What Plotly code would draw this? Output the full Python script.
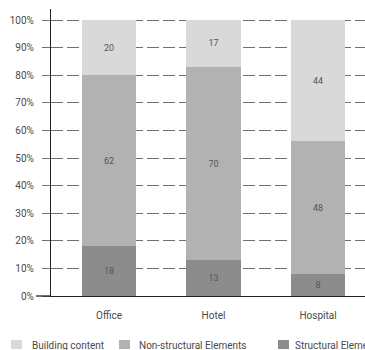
import plotly.graph_objects as go

categories = ["Office", "Hotel", "Hospital"]
series_names = ["Structural Elements", "Non-structural Elements", "Building content"]
structural = [18, 13, 8]
non_structural = [62, 70, 48]
building_content = [20, 17, 44]
series_values = [structural, non_structural, building_content]
series_colors = ["#8c8c8c", "#b2b2b2", "#d9d9d9"]
y_tickvals = [0, 10, 20, 30, 40, 50, 60, 70, 80, 90, 100]
y_ticktext = ["0%", "10%", "20%", "30%", "40%", "50%", "60%", "70%", "80%", "90%", "100%"]
legend_order = ["Building content", "Non-structural Elements", "Structural Elements"]

W, H = 365, 350
ML, MR, MT, MB = 51, 0, 9, 54
PW, PH = W - ML - MR, H - MT - MB
FONT = "Roboto, 'DejaVu Sans', sans-serif"
TXT = "#4a4a4a"

def px_x(px):
    return (px - ML) / PW

def px_y(py):
    return (H - MB - py) / PH

fig = go.Figure()
for name, vals, col in zip(series_names, series_values, series_colors):
    fig.add_trace(go.Bar(
        x=categories, y=vals, name=name, marker=dict(color=col, line=dict(width=0)),
        width=0.517, text=[str(v) for v in vals], texttemplate="%{text}",
        textposition="inside", insidetextanchor="middle", textangle=0,
        textfont=dict(size=9, color="#555555", family=FONT),
        showlegend=False, hoverinfo="skip",
    ))

# manual legend (reference legend is cut by the right edge)
leg_sq_left = [11, 119, 278]
leg_txt_left = [30, 137, 293]
shapes = []
annotations = []
for name, sx, tx in zip(legend_order, leg_sq_left, leg_txt_left):
    col = series_colors[series_names.index(name)]
    shapes.append(dict(type="rect", xref="paper", yref="paper",
                       x0=px_x(sx), x1=px_x(sx + 11), y0=px_y(349), y1=px_y(340),
                       fillcolor=col, line=dict(width=0)))
    annotations.append(dict(text=name, xref="paper", yref="paper",
                            x=px_x(tx), y=px_y(345), xanchor="left", yanchor="middle",
                            showarrow=False, font=dict(size=10, color=TXT, family=FONT)))

# x axis line extension to the left of the y axis
shapes.append(dict(type="line", xref="paper", yref="paper",
                   x0=px_x(36), x1=0, y0=0, y1=0, line=dict(color="#222222", width=1.3)))

fig.update_layout(
    width=W, height=H, margin=dict(l=ML, r=MR, t=MT, b=MB),
    barmode="stack", bargap=0.48,
    plot_bgcolor="white", paper_bgcolor="white",
    font=dict(family=FONT, size=10, color=TXT),
    shapes=shapes, annotations=annotations,
    xaxis=dict(range=[-0.555, 2.45], showgrid=False, showline=True, linecolor="#222222",
               linewidth=1.3, ticks="", tickfont=dict(size=10, color=TXT),
               ticklabelstandoff=10, fixedrange=True),
    yaxis=dict(range=[0, 104], tickvals=y_tickvals, ticktext=y_ticktext,
               showgrid=True, gridcolor="#707070", griddash="12px,4px", gridwidth=1.3,
               showline=True, linecolor="#222222", linewidth=1.3,
               ticks="outside", ticklen=8, tickcolor="#707070", tickwidth=1.3,
               tickfont=dict(size=10, color=TXT), ticklabelstandoff=6,
               zeroline=False, layer="below traces", fixedrange=True),
)
fig.write_html("out.html")
